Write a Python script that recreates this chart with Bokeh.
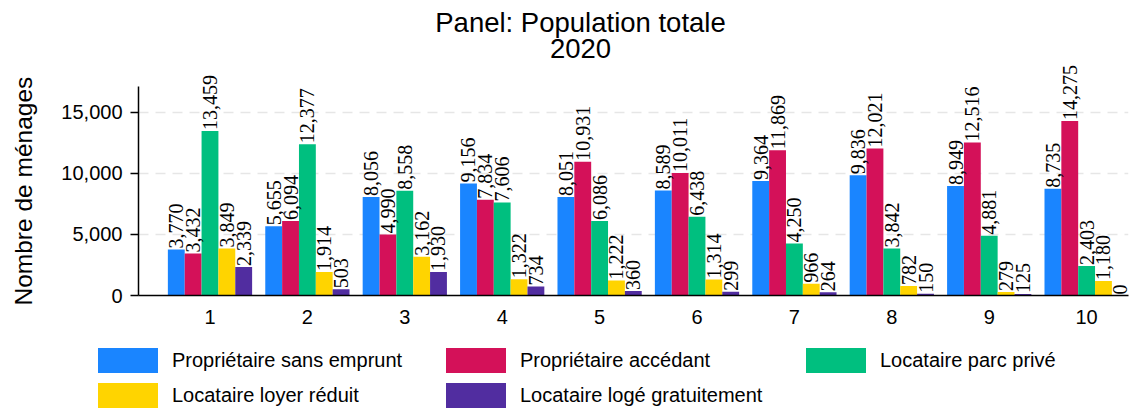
from math import pi
from bokeh.plotting import figure
from bokeh.layouts import column
from bokeh.models import (ColumnDataSource, FixedTicker, NumeralTickFormatter,
                          Title, Range1d, LabelSet, Label, Div)
from bokeh.transform import dodge
from bokeh.embed import file_html
from bokeh.resources import INLINE

# ---- data ----
deciles = [1, 2, 3, 4, 5, 6, 7, 8, 9, 10]
series_labels = ["Propriétaire sans emprunt", "Propriétaire accédant",
                 "Locataire parc privé", "Locataire loyer réduit",
                 "Locataire logé gratuitement"]
sans_emprunt = [3770, 5655, 8056, 9156, 8051, 8589, 9364, 9836, 8949, 8735]
accedant = [3432, 6094, 4990, 7834, 10931, 10011, 11869, 12021, 12516, 14275]
parc_prive = [13459, 12377, 8558, 7606, 6086, 6438, 4250, 3842, 4881, 2403]
loyer_reduit = [3849, 1914, 3162, 1322, 1222, 1314, 966, 782, 279, 1180]
loge_gratuit = [2339, 503, 1930, 734, 360, 299, 264, 150, 125, 0]
y_ticks = [0, 5000, 10000, 15000]
y_axis_max = 17090
colors = ["#1A85FF", "#D41159", "#00BF7F", "#FFD400", "#512DA0"]
title_line1 = "Panel: Population totale"
title_line2 = "2020"
y_label = "Nombre de ménages"

FONT = "Liberation Sans"
series = [sans_emprunt, accedant, parc_prive, loyer_reduit, loge_gratuit]

# ---- main chart ----
p = figure(width=1142, height=338, output_backend="svg", toolbar_location=None,
           title=None,
           x_range=Range1d(0.266, 10.43), y_range=Range1d(0, 24121),
           min_border_left=138, min_border_right=14, min_border_top=0,
           min_border_bottom=43)
p.outline_line_color = None
p.background_fill_color = "white"
p.border_fill_color = "white"

bw = 0.173
for i, vals in enumerate(series):
    off = (i - 2) * bw
    src = ColumnDataSource(dict(x=deciles, top=vals,
                                lab=[f"{v:,}" for v in vals]))
    p.vbar(x=dodge("x", off, range=p.x_range), top="top", width=bw,
           source=src, fill_color=colors[i], line_color=None,
           legend_label=series_labels[i])
    p.add_layout(LabelSet(x=dodge("x", off, range=p.x_range), y="top", text="lab",
                          source=src, angle=pi / 2, text_align="left",
                          text_baseline="middle", y_offset=1,
                          text_font=FONT, text_font_size="20px", text_color="black"))
# the legend is drawn below the chart (HTML strip), hide the in-frame one
p.legend.visible = False

p.xaxis.ticker = FixedTicker(ticks=deciles)
p.xaxis.major_tick_out = 0
p.xaxis.major_tick_in = 0
p.xaxis.minor_tick_line_color = None
p.xaxis.major_label_text_font = FONT
p.xaxis.major_label_text_font_size = "20px"
p.xaxis.major_label_text_color = "black"
p.xaxis.major_label_standoff = 14
p.xaxis.axis_line_width = 1.5
p.xaxis.axis_line_color = "black"

p.yaxis.ticker = FixedTicker(ticks=y_ticks)
p.yaxis.bounds = (0, y_axis_max)
p.yaxis.formatter = NumeralTickFormatter(format="0,0")
p.yaxis.major_tick_out = 8
p.yaxis.major_tick_in = 0
p.yaxis.major_tick_line_width = 1.5
p.yaxis.minor_tick_line_color = None
p.yaxis.major_label_text_font = FONT
p.yaxis.major_label_text_font_size = "20px"
p.yaxis.major_label_text_color = "black"
p.yaxis.major_label_standoff = 8
p.yaxis.axis_line_width = 1.5
p.yaxis.axis_line_color = "black"
# blank axis label only used as a spacer between tick labels and the y title
p.yaxis.axis_label = " "
p.yaxis.axis_label_text_font_size = "2px"
p.yaxis.axis_label_standoff = 12

p.xgrid.grid_line_color = None
p.ygrid.grid_line_color = "#E6E6E6"
p.ygrid.grid_line_width = 1.5
p.ygrid.grid_line_dash = "10 7"

p.add_layout(Title(text=y_label, align="left", offset=-10, standoff=10,
                   text_font=FONT, text_font_size="24.5px", text_font_style="normal",
                   text_color="black"), "left")

for txt, yy in [(title_line1, 273), (title_line2, 247)]:
    p.add_layout(Label(x=442, y=yy, x_units="screen", y_units="screen", text=txt,
                       text_align="center", text_baseline="middle",
                       text_font=FONT, text_font_size="27.5px", text_color="black"))

# ---- legend strip (two rows, three columns) ----
col_x = [98, 446, 806]
row_y = [10, 45]
parts = []
for k, (lab, c) in enumerate(zip(series_labels, colors)):
    x0 = col_x[k % 3]
    y0 = row_y[k // 3]
    parts.append(f'<div style="position:absolute;left:{x0}px;top:{y0}px;width:60px;'
                 f'height:25px;background:{c};"></div>')
    parts.append(f'<div style="position:absolute;left:{x0 + 74}px;top:{y0}px;height:25px;'
                 f'line-height:25px;white-space:nowrap;">{lab}</div>')
legend_html = ('<div style="position:relative;width:1142px;height:70px;'
               f'font-family:\'{FONT}\';font-size:20px;color:#000;">' + "".join(parts) + '</div>')
legend_strip = Div(text=legend_html, width=1142, height=70, margin=0)

open("out.html", "w").write(file_html(column(p, legend_strip, spacing=0), INLINE))
